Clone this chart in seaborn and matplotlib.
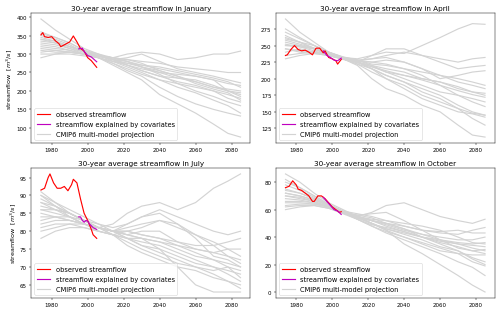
import numpy as np
import pandas as pd
import matplotlib
matplotlib.use("Agg")
import matplotlib.pyplot as plt
import seaborn as sns
from matplotlib.lines import Line2D

# años de los datos
cmip_years = [1974, 1982, 1990, 1998, 2006, 2014, 2022, 2030, 2040, 2050, 2060, 2070, 2078, 2085]

# Enero
jan_obs_years = [1974, 1975, 1976, 1978, 1980, 1982, 1984, 1985, 1987, 1990, 1992, 1994, 1996, 1998, 2000, 2002, 2005]
jan_obs = [352, 358, 347, 345, 347, 336, 328, 320, 325, 333, 349, 333, 315, 308, 290, 282, 264]
jan_cov_years = [1995, 1997, 1998, 2000, 2002, 2005]
jan_cov = [314, 316, 307, 296, 292, 279]
jan_cmip = [
    [395, 365, 340, 315, 300, 285, 275, 265, 255, 240, 225, 210, 205, 200],
    [290, 300, 305, 300, 295, 290, 300, 305, 300, 285, 290, 300, 300, 308],
    [340, 335, 320, 305, 290, 270, 250, 230, 190, 165, 140, 110, 85, 75],
    [330, 325, 315, 300, 290, 275, 255, 240, 210, 185, 165, 150, 140, 132],
    [350, 340, 325, 305, 295, 285, 280, 270, 260, 250, 240, 230, 220, 215],
    [320, 315, 310, 300, 295, 290, 285, 280, 275, 265, 260, 255, 250, 250],
    [310, 305, 305, 300, 290, 280, 270, 255, 240, 225, 215, 200, 190, 180],
    [345, 335, 320, 310, 295, 285, 290, 300, 280, 260, 250, 240, 230, 222],
    [300, 300, 300, 295, 290, 275, 260, 245, 230, 220, 210, 200, 180, 170],
    [335, 330, 320, 305, 295, 290, 285, 275, 255, 240, 220, 205, 195, 175],
    [325, 320, 310, 300, 290, 280, 275, 270, 265, 255, 245, 235, 225, 210],
    [355, 345, 330, 310, 300, 290, 280, 265, 245, 220, 200, 185, 170, 160],
    [315, 310, 305, 300, 295, 285, 270, 260, 250, 245, 240, 230, 200, 185],
    [340, 330, 315, 305, 295, 285, 270, 255, 240, 235, 225, 210, 200, 195],
    [305, 310, 305, 300, 293, 290, 280, 265, 250, 235, 230, 215, 200, 190],
    [360, 345, 330, 310, 298, 280, 265, 250, 230, 210, 195, 175, 160, 140],
]

# Abril
apr_obs_years = [1974, 1975, 1977, 1979, 1981, 1983, 1985, 1987, 1989, 1991, 1993, 1995, 1996, 1998, 2000, 2002, 2003, 2005]
apr_obs = [235, 236, 244, 250, 244, 242, 243, 240, 236, 246, 246, 239, 242, 232, 230, 227, 222, 229]
apr_cov_years = [1995, 1997, 1999, 2001, 2003, 2005]
apr_cov = [242, 235, 232, 228, 227, 231]
apr_cmip = [
    [290, 270, 255, 240, 232, 230, 235, 240, 238, 250, 262, 275, 283, 282],
    [260, 255, 250, 240, 232, 225, 215, 205, 195, 180, 170, 155, 140, 130],
    [250, 248, 245, 238, 230, 220, 200, 185, 175, 160, 150, 130, 115, 112],
    [240, 245, 240, 235, 230, 225, 235, 245, 245, 235, 230, 225, 230, 232],
    [255, 250, 245, 235, 230, 225, 220, 215, 210, 200, 195, 185, 180, 175],
    [245, 240, 238, 235, 230, 228, 222, 220, 215, 210, 205, 200, 195, 190],
    [270, 260, 250, 240, 232, 228, 225, 222, 215, 205, 190, 175, 165, 158],
    [230, 235, 238, 235, 230, 228, 230, 235, 240, 235, 225, 215, 218, 220],
    [265, 255, 245, 237, 230, 222, 215, 205, 195, 185, 175, 160, 150, 145],
    [250, 250, 245, 238, 232, 225, 218, 210, 200, 190, 180, 175, 170, 165],
    [235, 238, 240, 236, 230, 222, 210, 200, 190, 175, 165, 155, 148, 145],
    [258, 252, 246, 238, 230, 226, 225, 228, 225, 215, 205, 195, 190, 185],
    [275, 262, 250, 240, 233, 228, 220, 210, 205, 200, 195, 188, 180, 178],
    [245, 242, 240, 235, 229, 225, 215, 200, 185, 170, 160, 150, 147, 142],
    [262, 255, 246, 237, 230, 224, 218, 212, 205, 198, 190, 182, 176, 172],
    [252, 248, 242, 236, 231, 227, 230, 232, 225, 215, 200, 205, 210, 212],
]

# Julio
jul_obs_years = [1974, 1976, 1978, 1979, 1981, 1983, 1985, 1987, 1989, 1991, 1992, 1994, 1996, 1998, 2000, 2002, 2003, 2005]
jul_obs = [91.5, 92, 95, 96, 93.5, 92, 92, 92.5, 91.3, 93, 94.5, 93.5, 89, 85, 83, 80.5, 79, 78]
jul_cov_years = [1995, 1996, 1997, 1998, 1999, 2000, 2001, 2003, 2005]
jul_cov = [84, 84, 83, 82.5, 83, 82.8, 82, 81, 80.5]
jul_cmip = [
    [90, 88, 85, 83, 81, 82, 85, 87, 88, 86, 88, 92, 94, 96],
    [78, 80, 81, 81, 80, 79, 78, 76, 74, 72, 70, 68, 66, 64],
    [88, 86, 85, 83, 81, 80, 79, 78, 75, 70, 65, 63, 63, 63],
    [86, 85, 84, 82, 81, 80, 79, 80, 80, 77, 75, 74, 75, 75],
    [84, 84, 83, 82, 81, 80, 80, 81, 83, 82, 78, 73, 72, 70],
    [91, 88, 86, 84, 82, 80, 78, 76, 75, 73, 71, 70, 69, 68],
    [82, 83, 83, 82, 81, 80, 79, 78, 77, 76, 75, 74, 73, 72],
    [87, 86, 85, 83, 82, 81, 82, 84, 85, 82, 79, 76, 73, 71],
    [80, 81, 82, 82, 81, 80, 78, 77, 76, 74, 72, 70, 68, 66],
    [89, 87, 85, 83, 81, 80, 80, 79, 78, 77, 76, 76, 77, 78],
    [85, 84, 83, 82, 81, 79, 77, 75, 73, 71, 70, 69, 70, 69],
    [83, 84, 84, 83, 81, 80, 81, 82, 83, 81, 79, 77, 75, 73],
    [88, 87, 85, 83, 81, 79, 76, 74, 72, 70, 69, 67, 66, 65],
    [86, 86, 84, 82, 81, 80, 82, 84, 86, 84, 82, 80, 79, 80],
    [81, 82, 82, 81, 80, 79, 78, 78, 77, 75, 73, 72, 71, 70],
    [90, 87, 84, 82, 80, 79, 80, 79, 78, 76, 74, 72, 70, 67],
]

# Octubre
oct_obs_years = [1974, 1976, 1978, 1980, 1981, 1983, 1985, 1987, 1989, 1990, 1992, 1994, 1996, 1998, 2000, 2002, 2004, 2005]
oct_obs = [76, 77, 81, 78, 75, 74, 72, 70, 66, 66, 70, 70, 68, 65, 62, 60, 58, 58.5]
oct_cov_years = [1995, 1997, 1999, 2001, 2003, 2005]
oct_cov = [69, 66, 63, 60, 59, 56.5]
oct_cmip = [
    [86, 80, 72, 65, 60, 55, 50, 45, 40, 35, 30, 28, 27, 27],
    [60, 62, 63, 61, 58, 55, 50, 45, 35, 28, 20, 12, 5, 0],
    [72, 70, 67, 63, 58, 55, 58, 63, 65, 60, 55, 52, 50, 53],
    [75, 72, 68, 64, 58, 54, 52, 50, 48, 45, 43, 42, 45, 47],
    [70, 69, 66, 62, 58, 55, 52, 48, 44, 40, 37, 35, 34, 33],
    [65, 65, 64, 62, 58, 54, 50, 46, 42, 38, 33, 30, 25, 22],
    [82, 76, 70, 64, 59, 55, 52, 50, 46, 42, 40, 38, 38, 40],
    [62, 63, 63, 61, 57, 53, 48, 43, 38, 33, 28, 22, 18, 12],
    [74, 72, 68, 63, 58, 56, 57, 58, 52, 45, 38, 32, 30, 28],
    [68, 67, 65, 62, 58, 55, 52, 49, 45, 42, 38, 35, 32, 30],
    [78, 74, 69, 63, 58, 54, 50, 46, 43, 40, 38, 36, 35, 36],
    [63, 64, 64, 62, 58, 53, 48, 44, 40, 36, 32, 28, 22, 19],
    [72, 70, 67, 63, 59, 57, 55, 52, 48, 45, 44, 45, 43, 43],
    [66, 66, 65, 62, 58, 55, 53, 52, 50, 48, 45, 40, 36, 35],
    [80, 76, 70, 64, 58, 53, 49, 47, 44, 40, 35, 30, 24, 20],
    [70, 68, 66, 62, 58, 56, 54, 50, 46, 40, 36, 33, 30, 31],
]

months = ["January", "April", "July", "October"]
obs_years = [jan_obs_years, apr_obs_years, jul_obs_years, oct_obs_years]
obs_vals = [jan_obs, apr_obs, jul_obs, oct_obs]
cov_years = [jan_cov_years, apr_cov_years, jul_cov_years, oct_cov_years]
cov_vals = [jan_cov, apr_cov, jul_cov, oct_cov]
cmip_vals = [jan_cmip, apr_cmip, jul_cmip, oct_cmip]

plt.rcParams.update({
    "font.size": 11,
    "xtick.labelsize": 9.5,
    "ytick.labelsize": 9.5,
})

fig, axes = plt.subplots(2, 2, figsize=(12, 7.512), dpi=500 / 12)
fig.subplots_adjust(left=0.062, right=0.99, top=0.955, bottom=0.045, wspace=0.114, hspace=0.193)

for i, ax in enumerate(axes.flat):
    # proyecciones CMIP6 en formato largo
    df = pd.DataFrame([
        {"year": y, "flow": v, "model": m}
        for m, serie in enumerate(cmip_vals[i])
        for y, v in zip(cmip_years, serie)
    ])
    sns.lineplot(data=df, x="year", y="flow", units="model", estimator=None,
                 color="lightgray", lw=2, ax=ax, legend=False)
    sns.lineplot(x=obs_years[i], y=obs_vals[i], color="red", lw=2, ax=ax)
    sns.lineplot(x=cov_years[i], y=cov_vals[i], color="m", lw=2, ax=ax)

    ax.set_title(f"30-year average streamflow in {months[i]}", fontsize=12.5)
    ax.set_xlabel("")
    if i % 2 == 0:
        ax.set_ylabel("streamflow  [$m^3/s$]")
    else:
        ax.set_ylabel("")
    ax.set_xticks([1980, 2000, 2020, 2040, 2060, 2080])

    handles = [
        Line2D([], [], color="red", lw=2),
        Line2D([], [], color="m", lw=2),
        Line2D([], [], color="lightgray", lw=2),
    ]
    ax.legend(handles, ["observed streamflow", "streamflow explained by covariates",
                        "CMIP6 multi-model projection"], loc="lower left",
              fontsize=11.5, labelspacing=0.6)

fig.savefig("out.png")
